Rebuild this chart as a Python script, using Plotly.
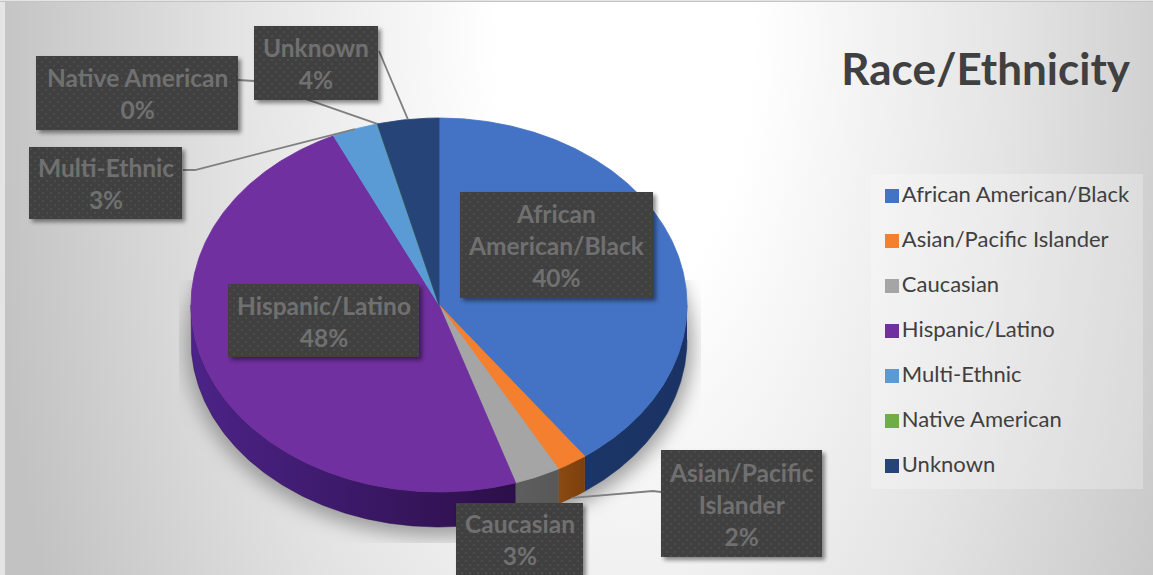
import base64
import numpy as np
import plotly.graph_objects as go

W, H = 1153, 575

# Chart data
categories = ["African American/Black", "Asian/Pacific Islander", "Caucasian",
              "Hispanic/Latino", "Multi-Ethnic", "Native American", "Unknown"]
percent = [40, 2, 3, 48, 3, 0, 4]
top_colors = ["#4472c4", "#f47f2e", "#a5a5a5", "#7030a0", "#5b9bd5", "#70ad47", "#264478"]
wall_left = ["#1b3567", "#8a4a12", "#5e5e5e", "#4c2388", "#2f5f8f", "#3f6b28", "#14274a"]
wall_right = ["#1a3364", "#7d3f0c", "#585858", "#2c0f48", "#2f5f8f", "#3f6b28", "#14274a"]

# Label text, broken the way each box wraps it
label_lines = {
    "African American/Black": ["African", "American/Black"],
    "Asian/Pacific Islander": ["Asian/Pacific", "Islander"],
    "Native American": ["Native American"],
}

# Label boxes: left, top, right, bottom in pixels
label_boxes = {
    "African American/Black": (460, 192, 653, 298),
    "Asian/Pacific Islander": (661, 450, 822, 557),
    "Caucasian": (456, 503, 583, 575),
    "Hispanic/Latino": (228, 284, 419, 357),
    "Multi-Ethnic": (29, 147, 182, 219),
    "Native American": (36, 56, 238, 130),
    "Unknown": (254, 26, 378, 100),
}

# Elliptical pie geometry, in pixels on the axes
CX, CY, RX, RY, DEPTH = 439, 305, 248, 187, 35


def rim(theta_deg, drop=0.0):
    t = np.radians(theta_deg)
    return CX + RX * np.sin(t), CY - RY * np.cos(t) + drop


def svg_uri(body):
    svg = (f'<svg xmlns="http://www.w3.org/2000/svg" width="{W}" height="{H}" '
           f'viewBox="0 0 {W} {H}">{body}</svg>')
    return "data:image/svg+xml;base64," + base64.b64encode(svg.encode()).decode()


# Page backdrop: soft radial fade plus the blurred ground shadow under the pie
backdrop = f'''
<defs>
<radialGradient id="bg" gradientUnits="userSpaceOnUse" cx="0" cy="0" r="1"
  gradientTransform="translate(625 40) scale(640 1300)">
<stop offset="0.2" stop-color="#ffffff"/><stop offset="0.6" stop-color="#e4e4e4"/>
<stop offset="1" stop-color="#c2c2c2"/>
</radialGradient>
<filter id="blur" x="-20%" y="-20%" width="140%" height="140%"><feGaussianBlur stdDeviation="9"/></filter>
<clipPath id="clip"><rect x="179" y="280" width="522" height="263"/></clipPath>
</defs>
<rect width="{W}" height="{H}" fill="#e4e4e4"/>
<rect x="5" y="2" width="{W-5}" height="{H-2}" fill="url(#bg)"/>
<rect x="0" y="1" width="{W}" height="1" fill="#c4c4c4"/>
<g clip-path="url(#clip)"><ellipse cx="{CX}" cy="{CY+DEPTH+4}" rx="{RX+6}" ry="{RY+6}"
 fill="#8c8c8c" opacity="0.8" filter="url(#blur)"/></g>
'''

images = [dict(source=svg_uri(backdrop), xref="paper", yref="paper", x=0, y=1,
               sizex=1, sizey=1, xanchor="left", yanchor="top",
               sizing="stretch", layer="below")]


def box_image(box):
    # Dark dotted label plate with a small drop shadow
    l, t, r, b = box
    pad = 12
    w, h = r - l, b - t
    body_w, body_h = w + 2 * pad, h + 2 * pad
    svg = f'''<svg xmlns="http://www.w3.org/2000/svg" width="{body_w}" height="{body_h}" viewBox="0 0 {body_w} {body_h}">
<defs>
<pattern id="dots" width="8" height="8" patternUnits="userSpaceOnUse" x="{pad}" y="{pad}">
<rect width="8" height="8" fill="#404040"/>
<circle cx="2" cy="2" r="0.7" fill="#5f5f5f"/><circle cx="6" cy="6" r="0.7" fill="#5f5f5f"/>
</pattern>
<filter id="s" x="-20%" y="-20%" width="140%" height="140%"><feGaussianBlur stdDeviation="2.2"/></filter>
</defs>
<rect x="{pad+3}" y="{pad+3}" width="{w}" height="{h}" fill="#000" opacity="0.45" filter="url(#s)"/>
<rect x="{pad}" y="{pad}" width="{w}" height="{h}" fill="url(#dots)"/>
</svg>'''
    return dict(source="data:image/svg+xml;base64," + base64.b64encode(svg.encode()).decode(),
                xref="paper", yref="paper",
                x=(l - pad) / W, y=1 - (t - pad) / H,
                sizex=body_w / W, sizey=body_h / H,
                xanchor="left", yanchor="top", sizing="stretch", layer="above")


images += [box_image(label_boxes[c]) for c in categories]

fig = go.Figure()

# Slice boundaries, clockwise from twelve o'clock
cum = np.concatenate([[0], np.cumsum(percent)]) / sum(percent) * 360.0

# Outer wall of the disc: only the front half of the rim shows
for i, cat in enumerate(categories):
    a, b = max(cum[i], 90), min(cum[i + 1], 270)
    if b <= a:
        continue
    th = np.linspace(a, b, max(int(b - a) * 2, 4))
    x0, y0 = rim(th)
    x1, y1 = rim(th[::-1], DEPTH)
    fig.add_trace(go.Scatter(
        x=np.concatenate([x0, x1]), y=np.concatenate([y0, y1]),
        mode="lines", fill="toself", line=dict(width=0.5, color=wall_right[i]),
        fillgradient=dict(type="horizontal",
                          colorscale=[[0, wall_left[i]], [1, wall_right[i]]]),
        hoverinfo="skip", showlegend=False))

# Top face of each slice
for i, cat in enumerate(categories):
    th = np.linspace(cum[i], cum[i + 1], max(int(cum[i + 1] - cum[i]) * 2, 2))
    x, y = rim(th)
    fig.add_trace(go.Scatter(
        x=np.concatenate([[CX], x, [CX]]), y=np.concatenate([[CY], y, [CY]]),
        mode="lines", fill="toself", fillcolor=top_colors[i],
        line=dict(width=0.8, color=top_colors[i]),
        name=cat, text=f"{cat}: {percent[i]}%", hoverinfo="text", showlegend=False))

# Leader lines run from a slice's midpoint on the rim out to its label plate
mid = (cum[:-1] + cum[1:]) / 2
leaders = {
    "Unknown": ((379, 51), None, 0),
    "Native American": ((238, 80), (254, 81), 0),
    "Multi-Ethnic": ((183, 170), (195, 170), 0),
    "Asian/Pacific Islander": ((661, 492), (653, 491), DEPTH),
}
for cat, (anchor, knee, drop) in leaders.items():
    ex, ey = rim(mid[categories.index(cat)], drop)
    pts = [anchor] + ([knee] if knee else []) + [(ex, ey)]
    fig.add_trace(go.Scatter(
        x=[p[0] for p in pts], y=[p[1] for p in pts], mode="lines",
        line=dict(color="#7f7f7f", width=1.8), hoverinfo="skip", showlegend=False))

# Legend panel entries
legend_y = 196 + 45 * np.arange(len(categories))
for i, cat in enumerate(categories):
    fig.add_trace(go.Scatter(
        x=[892], y=[legend_y[i]], mode="markers+text",
        marker=dict(symbol="square", size=14, color=top_colors[i]),
        text=[cat], textposition="middle right",
        textfont=dict(family="Lato", size=22, color="#404040"),
        hoverinfo="skip", showlegend=False))

# Label text on the plates
annotations = []
for i, cat in enumerate(categories):
    l, t, r, b = label_boxes[cat]
    lines = label_lines.get(cat, [cat]) + [f"{percent[i]}%"]
    annotations.append(dict(
        x=(l + r) / 2, y=(t + b) / 2 + 0.5, xref="x", yref="y",
        text="<br>".join(f"<b>{s}</b>" for s in lines), showarrow=False, align="center",
        font=dict(family="Lato", size=24.5, color="#707070")))

fig.update_layout(
    width=W, height=H, margin=dict(l=0, r=0, t=0, b=0),
    paper_bgcolor="white", plot_bgcolor="rgba(0,0,0,0)",
    showlegend=False,
    title=dict(text="<b>Race/Ethnicity</b>", x=1130 / W, xanchor="right",
               xref="paper", yref="paper", y=1 - 70 / H, yanchor="middle",
               font=dict(family="Lato", size=44, color="#404040")),
    xaxis=dict(range=[0, W], visible=False, fixedrange=True),
    yaxis=dict(range=[H, 0], visible=False, fixedrange=True),
    images=images, annotations=annotations,
    shapes=[dict(type="rect", xref="x", yref="y", x0=871, x1=1143, y0=174, y1=489,
                 fillcolor="rgba(255,255,255,0.25)", line_width=0, layer="below")],
)

fig.write_html("out.html", config=dict(displayModeBar=False))
